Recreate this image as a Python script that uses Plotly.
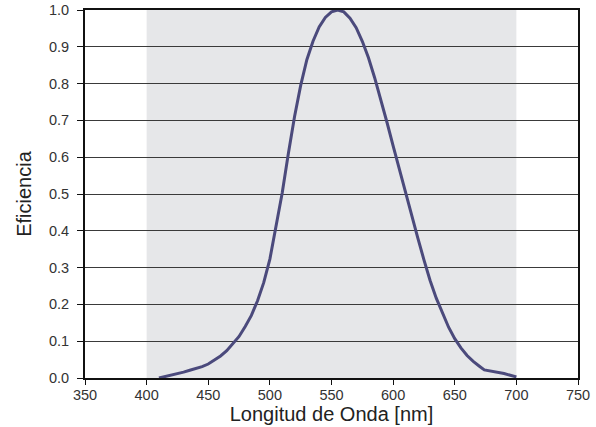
import plotly.graph_objects as go

# Photopic luminous efficiency curve
wavelength_nm = [410, 420, 430, 435, 440, 445, 450, 455, 460, 465, 470, 475, 480,
                 485, 490, 495, 500, 505, 510, 515, 520, 525, 530, 535, 540, 545,
                 550, 555, 560, 565, 570, 575, 580, 585, 590, 595, 600, 605, 610,
                 615, 620, 625, 630, 635, 640, 645, 650, 655, 660, 665, 670, 674,
                 690, 700]
efficiency = [0.0, 0.007, 0.016, 0.021, 0.025, 0.031, 0.038, 0.048, 0.060, 0.074,
              0.092, 0.113, 0.140, 0.170, 0.210, 0.259, 0.323, 0.410, 0.503, 0.610,
              0.710, 0.795, 0.865, 0.915, 0.954, 0.980, 0.995, 1.000, 0.995, 0.978,
              0.952, 0.915, 0.870, 0.816, 0.757, 0.695, 0.631, 0.567, 0.503, 0.441,
              0.381, 0.321, 0.265, 0.217, 0.175, 0.138, 0.107, 0.082, 0.061, 0.045,
              0.032, 0.022, 0.012, 0.003]

visible_band = (400, 700)
x_ticks = [350, 400, 450, 500, 550, 600, 650, 700, 750]
y_ticks = [0.0, 0.1, 0.2, 0.3, 0.4, 0.5, 0.6, 0.7, 0.8, 0.9, 1.0]

fig = go.Figure()
fig.add_trace(go.Scatter(
    x=wavelength_nm, y=efficiency, mode="lines",
    line=dict(color="#4b4a7c", width=3),
    hoverinfo="skip", showlegend=False,
))

fig.add_shape(type="rect", xref="x", yref="paper",
              x0=visible_band[0], x1=visible_band[1], y0=0, y1=1,
              fillcolor="#e6e7e9", line=dict(width=0), layer="below")

font_family = "Liberation Sans, Arial, sans-serif"
fig.update_layout(
    width=596, height=427,
    margin=dict(l=85, r=18, t=10, b=49),
    paper_bgcolor="white", plot_bgcolor="white",
    font=dict(family=font_family, color="#333333"),
    xaxis=dict(
        range=[350, 750], tickvals=x_ticks, ticktext=[str(v) for v in x_ticks],
        showgrid=False, zeroline=False, automargin=False,
        showline=True, linecolor="#111111", linewidth=2, mirror=True,
        ticks="outside", ticklen=5, tickwidth=1, tickcolor="#111111",
        tickfont=dict(size=14.5, color="#333333"),
        ticklabelstandoff=-2,
        title=dict(text="Longitud de Onda [nm]", font=dict(size=20, color="#222222"),
                   standoff=2),
    ),
    yaxis=dict(
        range=[0, 1], tickvals=y_ticks, ticktext=[f"{v:.1f}" for v in y_ticks],
        showgrid=True, gridcolor="#3a3a3a", gridwidth=1, zeroline=False,
        automargin=False,
        showline=True, linecolor="#111111", linewidth=2, mirror=True,
        ticks="outside", ticklen=6, tickwidth=1, tickcolor="#111111",
        tickfont=dict(size=14.5, color="#333333"),
        ticklabelstandoff=5,
        title=dict(text="Eficiencia", font=dict(size=20, color="#222222"),
                   standoff=12),
    ),
)

fig.write_html("out.html")
